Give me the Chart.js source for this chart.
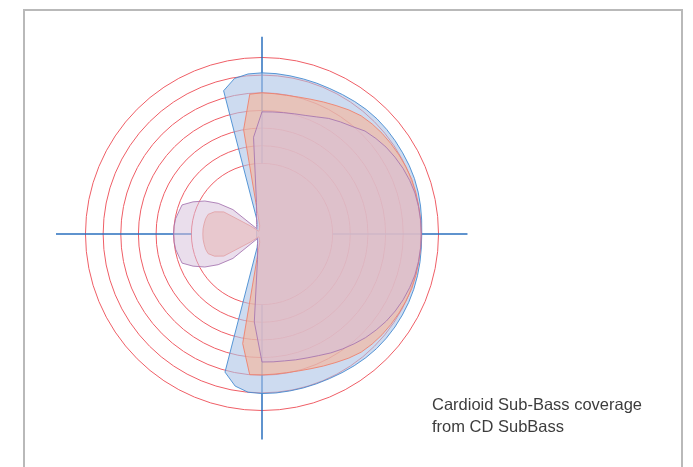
<!DOCTYPE html>
<html>
<head>
<meta charset="utf-8">
<script src="https://cdn.jsdelivr.net/npm/chart.js@4.4.1/dist/chart.umd.min.js"></script>
<style>
  html, body { margin: 0; padding: 0; background: #fff; overflow: hidden; }
  body { width: 693px; height: 467px; position: relative; }
  .frame { position: absolute; left: 23px; top: 9px; width: 656px; height: 520px; border: 2px solid #b9b9b9; }
  .plot { position: absolute; left: 56px; top: 28px; width: 413px; height: 413px; }
  .caption { position: absolute; left: 432px; top: 393px; font: 16.5px/22px "Liberation Sans", Arial, sans-serif; color: #3d3d3d; }
</style>
</head>
<body>
<div class="frame"></div>
<div class="plot"><canvas id="polar"></canvas></div>
<div class="caption">Cardioid Sub-Bass coverage<br>from CD SubBass</div>
<script>
// angle in degrees, clockwise from the top (front of the sub points right = 90)
const angles = [
  0, 5, 10, 15, 20, 25, 30, 35, 40, 45, 50, 55,
  60, 65, 70, 75, 80, 85, 90, 95, 100, 105, 110, 115,
  120, 125, 130, 135, 140, 145, 150, 155, 160, 165, 170, 175,
  180, 185, 190, 195, 200, 205, 210, 215, 220, 225, 230, 235,
  240, 245, 250, 255, 260, 265, 270, 275, 280, 285, 290, 295,
  300, 305, 310, 315, 320, 325, 330, 335, 340, 345, 350, 355
];

// coverage radius per angle, in ring units (rings 4..10 are drawn)
const widest = [
  9.13, 9.12, 9.10, 9.09, 9.09, 9.09, 9.12, 9.16, 9.20, 9.22, 9.22, 9.21,
  9.20, 9.20, 9.19, 9.16, 9.12, 9.08, 9.05, 9.06, 9.09, 9.12, 9.15, 9.17,
  9.18, 9.19, 9.19, 9.18, 9.15, 9.11, 9.07, 9.04, 9.03, 9.03, 9.03, 9.04,
  9.04, 9.00, 8.75, 8.10, 0.80, 0.60, 0.50, 0.45, 0.42, 0.40, 0.38, 0.36,
  0.35, 0.34, 0.33, 0.32, 0.31, 0.31, 0.31, 0.31, 0.31, 0.32, 0.33, 0.34,
  0.35, 0.36, 0.38, 0.40, 0.42, 0.45, 0.50, 0.60, 0.80, 8.40, 8.95, 9.10
];
const middle = [
  8.00, 7.98, 7.98, 8.03, 8.12, 8.25, 8.40, 8.58, 8.74, 8.82, 8.88, 8.92,
  8.96, 9.00, 9.03, 9.03, 9.02, 9.02, 9.02, 9.02, 9.02, 9.03, 9.03, 9.00,
  8.96, 8.92, 8.88, 8.82, 8.74, 8.58, 8.40, 8.25, 8.12, 8.03, 7.98, 7.97,
  7.98, 8.00, 6.30, 0.50, 0.40, 0.35, 0.30, 0.28, 0.26, 0.25, 0.25, 0.80,
  2.50, 2.97, 3.25, 3.31, 3.33, 3.35, 3.35, 3.35, 3.33, 3.31, 3.25, 2.97,
  2.50, 0.80, 0.25, 0.25, 0.26, 0.28, 0.30, 0.35, 0.40, 0.50, 6.00, 7.95
];
const narrow = [
  6.92, 6.94, 6.98, 7.05, 7.15, 7.32, 7.56, 7.75, 7.95, 8.25, 8.42, 8.58,
  8.70, 8.81, 8.90, 8.97, 9.00, 9.02, 9.02, 9.02, 9.00, 8.97, 8.90, 8.82,
  8.72, 8.60, 8.45, 8.30, 8.12, 7.95, 7.78, 7.60, 7.47, 7.38, 7.30, 7.27,
  7.25, 5.00, 1.47, 0.99, 0.75, 0.60, 0.51, 0.44, 0.40, 0.36, 2.15, 3.03,
  3.74, 4.31, 4.82, 4.88, 4.97, 5.00, 5.01, 5.00, 4.97, 4.88, 4.82, 4.31,
  3.74, 3.03, 2.15, 0.44, 0.49, 0.54, 0.62, 0.74, 0.91, 1.20, 1.80, 5.50
];

// crosshair: up, right, down, left, drawn from ring 4 outwards
const axisAngles = [0, 90, 180, 270];
const axisFrom = 4;
const axisReach = [11.17, 11.64, 11.64, 11.70];
const firstRing = 4;
const lastRing = 10;

const axisLines = {
  id: 'axisLines',
  beforeDatasetsDraw(chart) {
    const scale = chart.scales.r;
    const ctx = chart.ctx;
    ctx.save();
    ctx.strokeStyle = '#2a6fbe';
    ctx.lineWidth = 1.5;
    axisAngles.forEach((deg, k) => {
      const idx = angles.indexOf(deg);
      const a = scale.getPointPositionForValue(idx, axisFrom);
      const b = scale.getPointPositionForValue(idx, axisReach[k]);
      ctx.beginPath();
      ctx.moveTo(a.x, a.y);
      ctx.lineTo(b.x, b.y);
      ctx.stroke();
    });
    ctx.restore();
  }
};

new Chart(document.getElementById('polar'), {
  type: 'radar',
  data: {
    labels: angles.map(a => a + '°'),
    datasets: [
      {
        label: 'narrow',
        data: narrow,
        backgroundColor: 'rgba(215,192,219,0.53)',
        borderColor: 'rgba(165,115,175,0.85)',
      },
      {
        label: 'middle',
        data: middle,
        backgroundColor: 'rgba(248,179,150,0.6)',
        borderColor: 'rgba(238,130,110,0.9)',
      },
      {
        label: 'widest',
        data: widest,
        backgroundColor: 'rgba(172,195,230,0.6)',
        borderColor: 'rgba(70,140,210,0.9)',
      }
    ].map(d => ({ ...d, fill: true, borderWidth: 1, pointRadius: 0, tension: 0 }))
  },
  options: {
    responsive: true,
    maintainAspectRatio: false,
    animation: false,
    events: [],
    scales: {
      r: {
        min: 0,
        max: 11.67,
        ticks: { display: false, stepSize: 1 },
        pointLabels: { display: false },
        angleLines: { display: false },
        grid: {
          circular: true,
          lineWidth: 1,
          color: c => (c.tick && c.tick.value >= firstRing && c.tick.value <= lastRing) ? '#ef5e66' : 'rgba(0,0,0,0)'
        }
      }
    },
    plugins: {
      legend: { display: false },
      tooltip: { enabled: false }
    }
  },
  plugins: [axisLines]
});
</script>
</body>
</html>
